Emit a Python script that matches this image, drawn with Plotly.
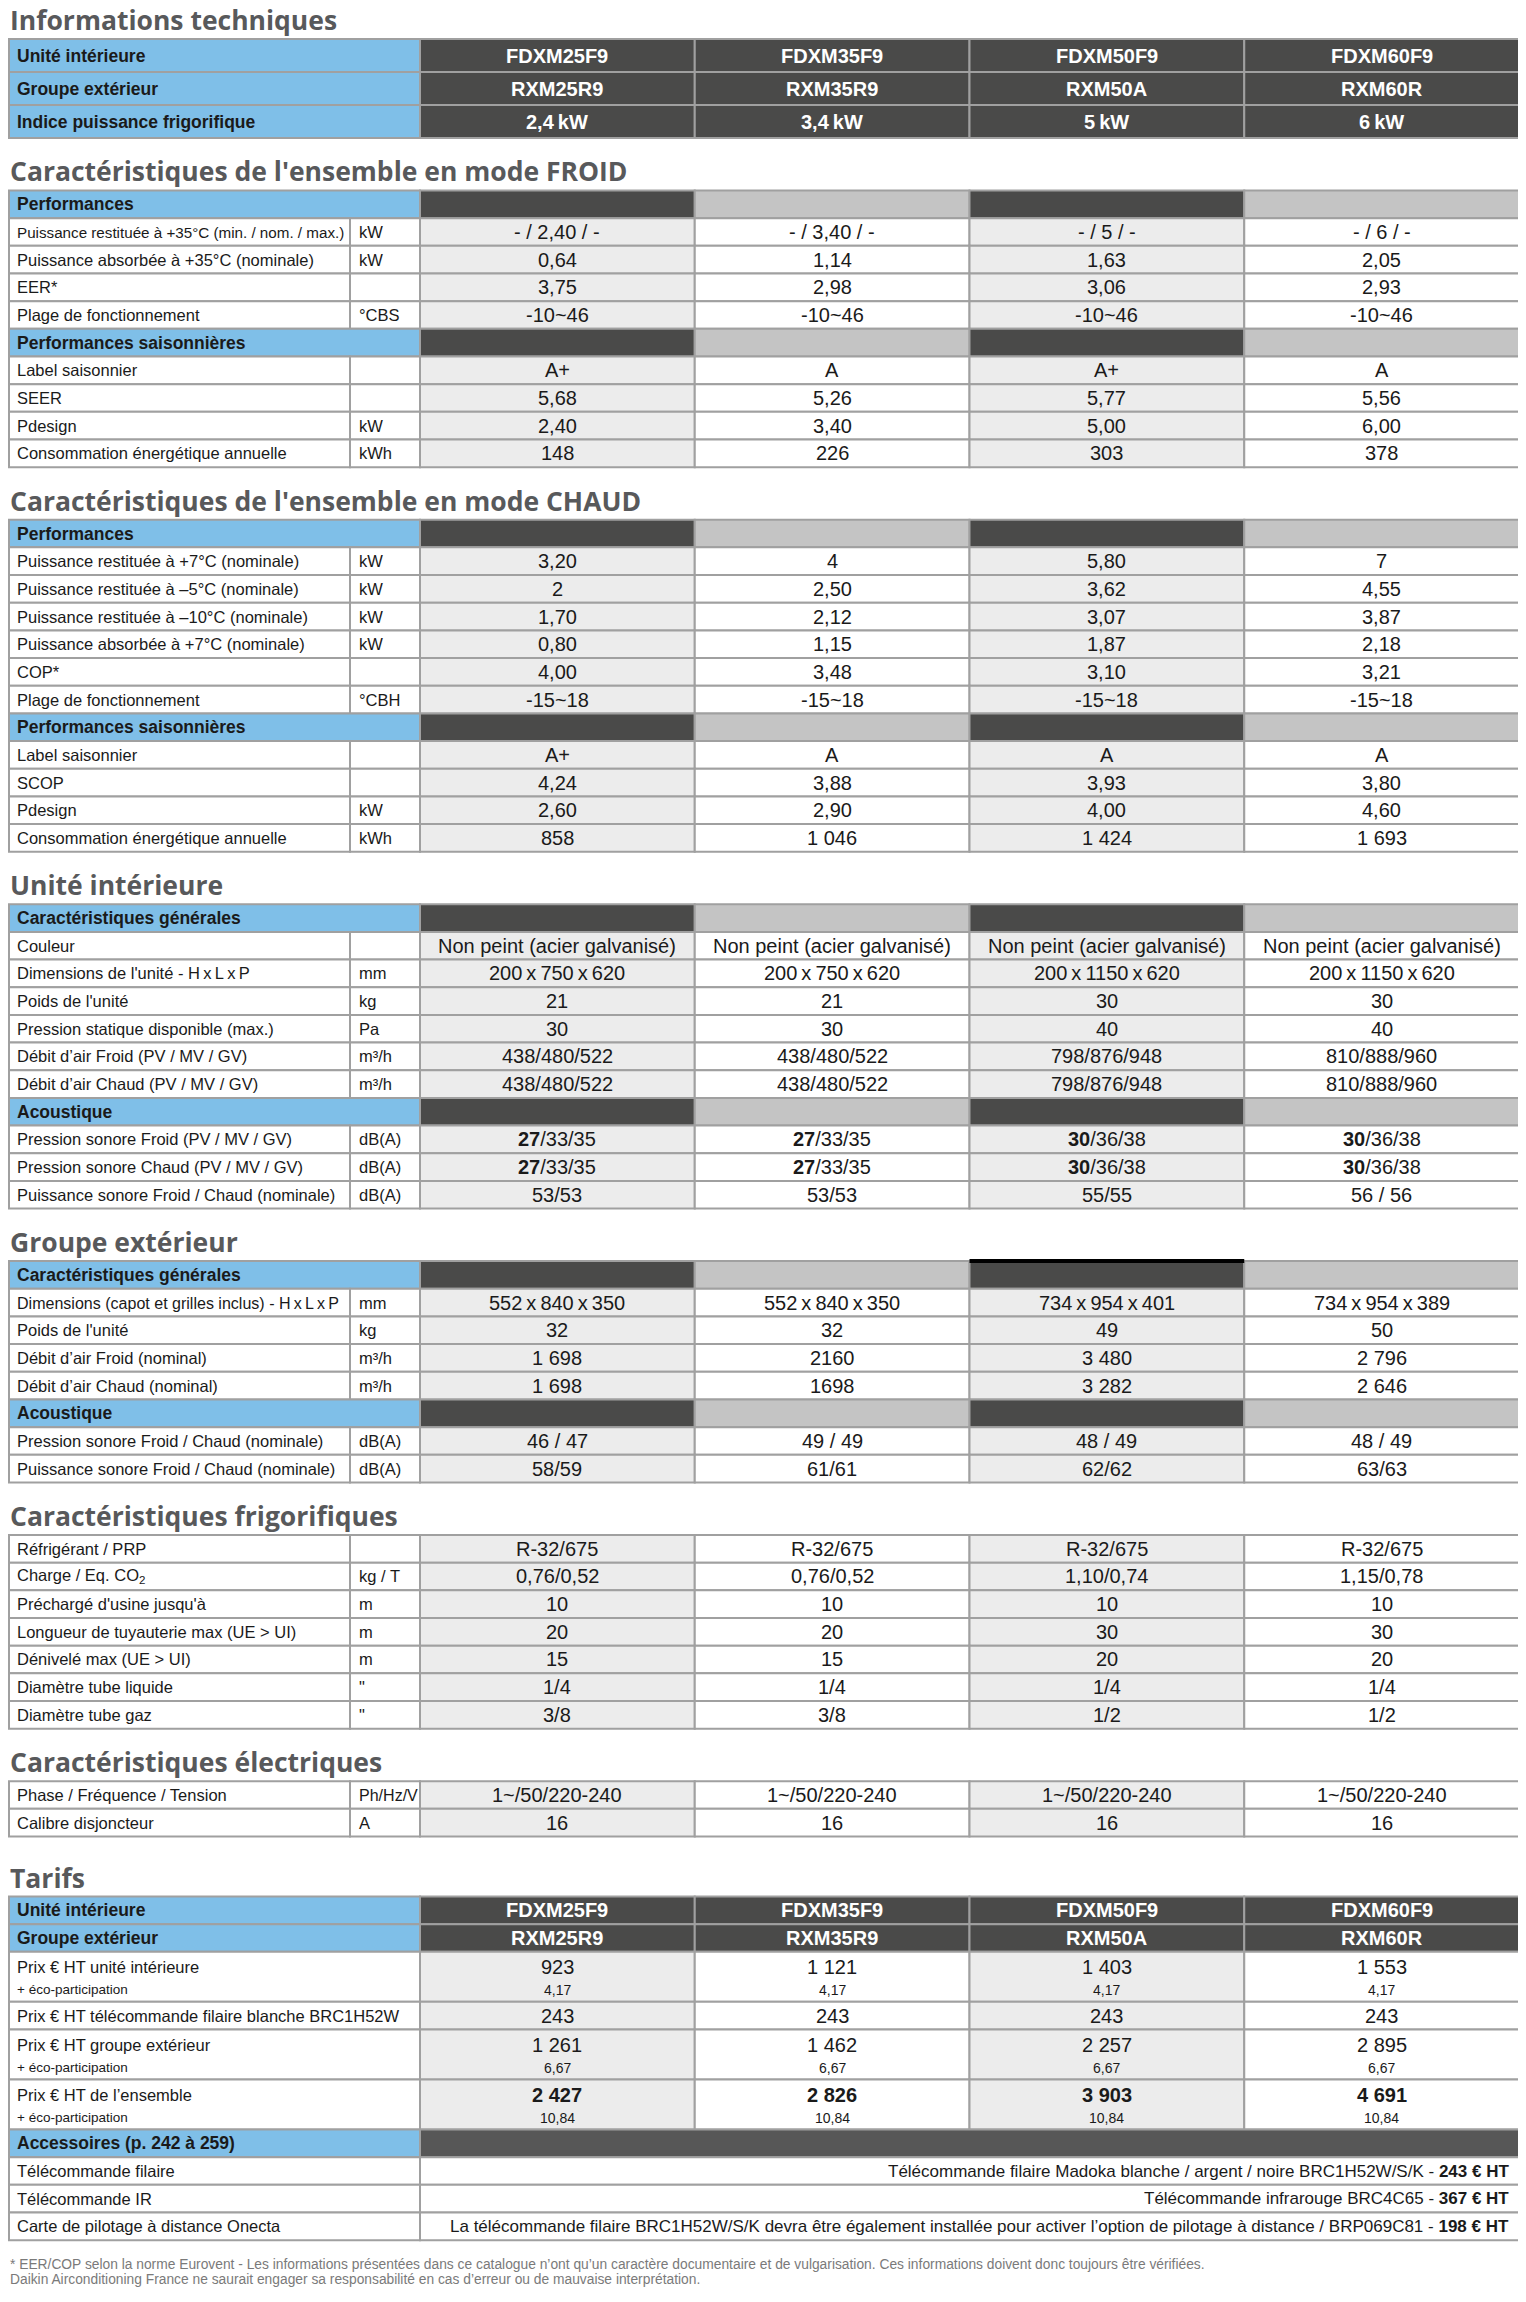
import re
import plotly.graph_objects as go

# ---------------- data ----------------
unites_int = ["FDXM25F9", "FDXM35F9", "FDXM50F9", "FDXM60F9"]
groupes_ext = ["RXM25R9", "RXM35R9", "RXM50A", "RXM60R"]
indice_frigo = ["2,4 kW", "3,4 kW", "5 kW", "6 kW"]

# mode FROID
froid_perf_labels = ["Puissance restituée à +35°C (min. / nom. / max.)",
                     "Puissance absorbée à +35°C (nominale)", "EER*", "Plage de fonctionnement"]
froid_perf_units = ["kW", "kW", "", "°CBS"]
froid_perf_values = [["- / 2,40 / -", "- / 3,40 / -", "- / 5 / -", "- / 6 / -"],
                     ["0,64", "1,14", "1,63", "2,05"],
                     ["3,75", "2,98", "3,06", "2,93"],
                     ["-10~46", "-10~46", "-10~46", "-10~46"]]
froid_sais_labels = ["Label saisonnier", "SEER", "Pdesign", "Consommation énergétique annuelle"]
froid_sais_units = ["", "", "kW", "kWh"]
froid_sais_values = [["A+", "A", "A+", "A"],
                     ["5,68", "5,26", "5,77", "5,56"],
                     ["2,40", "3,40", "5,00", "6,00"],
                     ["148", "226", "303", "378"]]

# mode CHAUD
chaud_perf_labels = ["Puissance restituée à +7°C (nominale)", "Puissance restituée à –5°C (nominale)",
                     "Puissance restituée à –10°C (nominale)", "Puissance absorbée à +7°C (nominale)",
                     "COP*", "Plage de fonctionnement"]
chaud_perf_units = ["kW", "kW", "kW", "kW", "", "°CBH"]
chaud_perf_values = [["3,20", "4", "5,80", "7"],
                     ["2", "2,50", "3,62", "4,55"],
                     ["1,70", "2,12", "3,07", "3,87"],
                     ["0,80", "1,15", "1,87", "2,18"],
                     ["4,00", "3,48", "3,10", "3,21"],
                     ["-15~18", "-15~18", "-15~18", "-15~18"]]
chaud_sais_labels = ["Label saisonnier", "SCOP", "Pdesign", "Consommation énergétique annuelle"]
chaud_sais_units = ["", "", "kW", "kWh"]
chaud_sais_values = [["A+", "A", "A", "A"],
                     ["4,24", "3,88", "3,93", "3,80"],
                     ["2,60", "2,90", "4,00", "4,60"],
                     ["858", "1 046", "1 424", "1 693"]]

# unité intérieure
ui_gen_labels = ["Couleur", "Dimensions de l'unité - H x L x P", "Poids de l'unité",
                 "Pression statique disponible (max.)", "Débit d’air Froid (PV / MV / GV)",
                 "Débit d’air Chaud (PV / MV / GV)"]
ui_gen_units = ["", "mm", "kg", "Pa", "m³/h", "m³/h"]
ui_gen_values = [["Non peint (acier galvanisé)"] * 4,
                 ["200 x 750 x 620", "200 x 750 x 620", "200 x 1150 x 620", "200 x 1150 x 620"],
                 ["21", "21", "30", "30"],
                 ["30", "30", "40", "40"],
                 ["438/480/522", "438/480/522", "798/876/948", "810/888/960"],
                 ["438/480/522", "438/480/522", "798/876/948", "810/888/960"]]
ui_acou_labels = ["Pression sonore Froid (PV / MV / GV)", "Pression sonore Chaud (PV / MV / GV)",
                  "Puissance sonore Froid / Chaud (nominale)"]
ui_acou_units = ["dB(A)", "dB(A)", "dB(A)"]
ui_acou_values = [["<b>27</b>/33/35", "<b>27</b>/33/35", "<b>30</b>/36/38", "<b>30</b>/36/38"],
                  ["<b>27</b>/33/35", "<b>27</b>/33/35", "<b>30</b>/36/38", "<b>30</b>/36/38"],
                  ["53/53", "53/53", "55/55", "56 / 56"]]

# groupe extérieur
ge_gen_labels = ["Dimensions (capot et grilles inclus) - H x L x P", "Poids de l'unité",
                 "Débit d’air Froid (nominal)", "Débit d’air Chaud (nominal)"]
ge_gen_units = ["mm", "kg", "m³/h", "m³/h"]
ge_gen_values = [["552 x 840 x 350", "552 x 840 x 350", "734 x 954 x 401", "734 x 954 x 389"],
                 ["32", "32", "49", "50"],
                 ["1 698", "2160", "3 480", "2 796"],
                 ["1 698", "1698", "3 282", "2 646"]]
ge_acou_labels = ["Pression sonore Froid / Chaud (nominale)", "Puissance sonore Froid / Chaud (nominale)"]
ge_acou_units = ["dB(A)", "dB(A)"]
ge_acou_values = [["46 / 47", "49 / 49", "48 / 49", "48 / 49"],
                  ["58/59", "61/61", "62/62", "63/63"]]

# frigorifiques
frigo_labels = ["Réfrigérant / PRP", "Charge / Eq. CO<sub>2</sub>", "Préchargé d'usine jusqu'à",
                "Longueur de tuyauterie max (UE > UI)", "Dénivelé max (UE > UI)",
                "Diamètre tube liquide", "Diamètre tube gaz"]
frigo_units = ["", "kg / T", "m", "m", "m", "\"", "\""]
frigo_values = [["R-32/675"] * 4,
                ["0,76/0,52", "0,76/0,52", "1,10/0,74", "1,15/0,78"],
                ["10", "10", "10", "10"],
                ["20", "20", "30", "30"],
                ["15", "15", "20", "20"],
                ["1/4", "1/4", "1/4", "1/4"],
                ["3/8", "3/8", "1/2", "1/2"]]

# électriques
elec_labels = ["Phase / Fréquence / Tension", "Calibre disjoncteur"]
elec_units = ["Ph/Hz/V", "A"]
elec_values = [["1~/50/220-240"] * 4, ["16", "16", "16", "16"]]

# tarifs
prix_ui = ["923", "1 121", "1 403", "1 553"]
eco_ui = ["4,17", "4,17", "4,17", "4,17"]
prix_telecommande = ["243", "243", "243", "243"]
prix_ge = ["1 261", "1 462", "2 257", "2 895"]
eco_ge = ["6,67", "6,67", "6,67", "6,67"]
prix_ensemble = ["2 427", "2 826", "3 903", "4 691"]
eco_ensemble = ["10,84", "10,84", "10,84", "10,84"]

acc_labels = ["Télécommande filaire", "Télécommande IR", "Carte de pilotage à distance Onecta"]
acc_texts = ["Télécommande filaire Madoka blanche / argent / noire BRC1H52W/S/K - <b>243 € HT</b>",
             "Télécommande infrarouge BRC4C65 - <b>367 € HT</b>",
             "La télécommande filaire BRC1H52W/S/K devra être également installée pour activer "
             "l’option de pilotage à distance / BRP069C81 - <b>198 € HT</b>"]

footnote = ["* EER/COP selon la norme Eurovent - Les informations présentées dans ce catalogue n’ont qu’un "
            "caractère documentaire et de vulgarisation. Ces informations doivent donc toujours être vérifiées.",
            "Daikin Airconditioning France ne saurait engager sa responsabilité en cas d’erreur ou de mauvaise interprétation."]

# ---------------- style ----------------
W, H = 1526, 2302
PAGE = 8  # default body margin of the html page
BLUE = "#7fbfe8"
DARK = "#4a4a49"
DARK2 = "#575757"
LIGHT = "#c4c4c4"
GREYCELL = "#ececec"
BORDER = "#a0a0a0"
INK = "#1a1a1a"
TITLE = "#58595b"
SANS = "Liberation Sans, Arial, sans-serif"
TITLEFONT = "Open Sans, sans-serif"

X0, XU, XV, X1 = 9, 350, 420, 1519
CW = (X1 - XV) / 4
ROW, TOP_ROW, DBL = 27.67, 33, 50
HEAD_FILLS = [DARK, LIGHT, DARK, LIGHT]
VAL_FILLS = [GREYCELL, "white", GREYCELL, "white"]
LBL, VAL = 16.5, 20


def em_width(s):
    # rough Arial advance widths, in em
    w = 0
    for c in re.sub("<[^>]+>", "", s):
        if c in "\u2009":
            w += 0.17
        elif c in "il.,;:'!|’\"":
            w += 0.24
        elif c in "fjtr()-/ °":
            w += 0.3
        elif c in "mwM":
            w += 0.83
        elif c.isupper():
            w += 0.68
        else:
            w += 0.55
    return w


def fit(s, size, avail):
    return min(size, avail / max(em_width(s), 0.1))


def rows(kind, labels, units, values):
    return [dict(kind=kind, label=l, unit=u, values=v) for l, u, v in zip(labels, units, values)]


def head(label, **kw):
    return dict(kind="head", label=label, **kw)


sections = [
    ("Informations techniques", 39, [
        dict(kind="top", label="Unité intérieure", values=unites_int),
        dict(kind="top", label="Groupe extérieur", values=groupes_ext),
        dict(kind="top", label="Indice puissance frigorifique", values=indice_frigo)]),
    ("Caractéristiques de l'ensemble en mode FROID", 52.5, [head("Performances")]
     + rows("data", froid_perf_labels, froid_perf_units, froid_perf_values)
     + [head("Performances saisonnières")]
     + rows("data", froid_sais_labels, froid_sais_units, froid_sais_values)),
    ("Caractéristiques de l'ensemble en mode CHAUD", 52.5, [head("Performances")]
     + rows("data", chaud_perf_labels, chaud_perf_units, chaud_perf_values)
     + [head("Performances saisonnières")]
     + rows("data", chaud_sais_labels, chaud_sais_units, chaud_sais_values)),
    ("Unité intérieure", 52.5, [head("Caractéristiques générales")]
     + rows("data", ui_gen_labels, ui_gen_units, ui_gen_values)
     + [head("Acoustique")]
     + rows("data", ui_acou_labels, ui_acou_units, ui_acou_values)),
    ("Groupe extérieur", 52.5, [head("Caractéristiques générales", accent=True)]
     + rows("data", ge_gen_labels, ge_gen_units, ge_gen_values)
     + [head("Acoustique")]
     + rows("data", ge_acou_labels, ge_acou_units, ge_acou_values)),
    ("Caractéristiques frigorifiques", 52.5, rows("data", frigo_labels, frigo_units, frigo_values)),
    ("Caractéristiques électriques", 52.5, rows("data", elec_labels, elec_units, elec_values)),
    ("Tarifs", 60, [
        dict(kind="top", label="Unité intérieure", values=unites_int, h=ROW),
        dict(kind="top", label="Groupe extérieur", values=groupes_ext, h=ROW),
        dict(kind="double", label="Prix € HT unité intérieure", values=prix_ui, small=eco_ui),
        dict(kind="single", label="Prix € HT télécommande filaire blanche BRC1H52W", values=prix_telecommande),
        dict(kind="double", label="Prix € HT groupe extérieur", values=prix_ge, small=eco_ge),
        dict(kind="double", label="Prix € HT de l’ensemble", values=prix_ensemble, small=eco_ensemble, bold=True),
        dict(kind="acchead", label="Accessoires (p. 242 à 259)")]
     + [dict(kind="acc", label=l, text=t) for l, t in zip(acc_labels, acc_texts)]),
]

shapes, annotations = [], []


def cell(x0, y0, x1, y1, fill):
    shapes.append(dict(type="rect", xref="x", yref="y", x0=x0, y0=y0, x1=x1, y1=y1,
                       fillcolor=fill, line=dict(color=BORDER, width=2)))


def text(x, y, s, size, family=SANS, color=INK, anchor="center", weight=None, yanchor="middle"):
    if not s:
        return
    font = dict(family=family, size=size, color=color)
    if weight:
        font["weight"] = weight
    annotations.append(dict(x=x, y=y, xref="x", yref="y", text=s, showarrow=False,
                            xanchor=anchor, yanchor=yanchor, font=font))


def fmt(s):
    return s.replace(" x ", "\u2009x\u2009")


y = 0
for title, gap, table in sections:
    y += gap
    # title sits just above its table
    text(X0 - 1, y + 1, title, 26.5, family=TITLEFONT, color=TITLE, anchor="left", weight=700,
         yanchor="bottom")
    for r in table:
        k = r["kind"]
        h = r.get("h", TOP_ROW if k == "top" else DBL if k == "double" else ROW)
        yc = y + h / 2
        if k in ("top", "head", "acchead"):
            cell(X0, y, XV, y + h, BLUE)
            text(X0 + 6, yc, "<b>%s</b>" % r["label"], 17.5, anchor="left")
            if k == "acchead":
                cell(XV, y, X1, y + h, DARK2)
            for i in range(4):
                if k == "top":
                    cell(XV + i * CW, y, XV + (i + 1) * CW, y + h, DARK)
                    text(XV + (i + 0.5) * CW, yc, "<b>%s</b>" % r["values"][i].replace(" kW", "\u2009kW"),
                         20, color="white")
                elif k == "head":
                    cell(XV + i * CW, y, XV + (i + 1) * CW, y + h, HEAD_FILLS[i])
            if r.get("accent"):
                shapes.append(dict(type="line", xref="x", yref="y", x0=XV + 2 * CW, x1=XV + 3 * CW,
                                   y0=y, y1=y, line=dict(color="black", width=4)))
        elif k == "data":
            cell(X0, y, XU, y + h, "white")
            cell(XU, y, XV, y + h, "white")
            lab = fmt(r["label"])
            text(X0 + 6, yc, lab, fit(lab, LBL, XU - X0 - 12), anchor="left")
            text(XU + 7, yc, r["unit"], fit(r["unit"], LBL, XV - XU - 10), anchor="left")
            for i in range(4):
                cell(XV + i * CW, y, XV + (i + 1) * CW, y + h, VAL_FILLS[i])
                text(XV + (i + 0.5) * CW, yc, fmt(r["values"][i]), VAL)
        elif k in ("single", "double"):
            cell(X0, y, XV, y + h, "white")
            top_y = yc if k == "single" else y + 15
            text(X0 + 6, top_y, r["label"], fit(r["label"], LBL, XV - X0 - 14), anchor="left")
            if k == "double":
                text(X0 + 6, y + 38, "+ éco-participation", 13.5, anchor="left")
            for i in range(4):
                cell(XV + i * CW, y, XV + (i + 1) * CW, y + h, VAL_FILLS[i])
                v = r["values"][i]
                text(XV + (i + 0.5) * CW, top_y, "<b>%s</b>" % v if r.get("bold") else v, VAL)
                if k == "double":
                    text(XV + (i + 0.5) * CW, y + 38, r["small"][i], 14)
        elif k == "acc":
            cell(X0, y, XV, y + h, "white")
            cell(XV, y, X1, y + h, "white")
            text(X0 + 6, yc, r["label"], LBL, anchor="left")
            text(X1 - 8, yc, r["text"], 17, anchor="right")
        y += h

for j, line in enumerate(footnote):
    text(X0 - 1, y + 24 + 15 * j, line, 13.8, color="#7a7a7a", anchor="left")

fig = go.Figure()
fig.update_layout(
    width=W - PAGE, height=H - PAGE, margin=dict(l=0, r=0, t=0, b=0),
    paper_bgcolor="white", plot_bgcolor="white",
    xaxis=dict(range=[PAGE, W], visible=False, fixedrange=True),
    yaxis=dict(range=[H, PAGE], visible=False, fixedrange=True),
    shapes=shapes, annotations=annotations, showlegend=False,
)
fig.write_html("out.html")
